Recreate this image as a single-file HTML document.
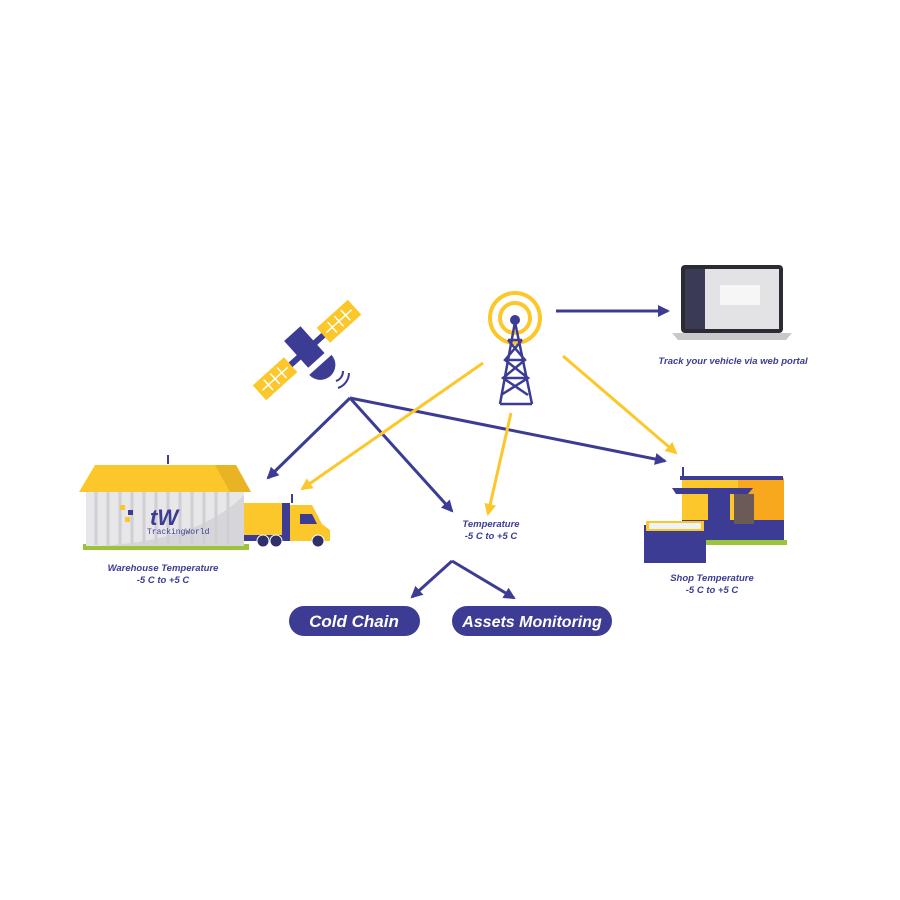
<!DOCTYPE html>
<html><head><style>
html,body{margin:0;padding:0;background:#fff;}
svg{display:block;}
text{font-family:"Liberation Sans",sans-serif;font-style:italic;font-weight:bold;fill:#3c3c94;}
</style></head><body>
<svg width="900" height="900" viewBox="0 0 900 900" xmlns="http://www.w3.org/2000/svg">
<defs>
<marker id="an" markerWidth="12" markerHeight="12" refX="10" refY="6" orient="auto" markerUnits="userSpaceOnUse"><path d="M0,0 L12,6 L0,12 Z" fill="#3c3c94"/></marker>
<marker id="ay" markerWidth="12" markerHeight="12" refX="10" refY="6" orient="auto" markerUnits="userSpaceOnUse"><path d="M0,0 L12,6 L0,12 Z" fill="#fcc72a"/></marker>
</defs>

<!-- satellite -->
<g transform="translate(307,350) rotate(-42)">
<rect x="-64" y="-10" width="42" height="20" fill="#fcc72a"/>
<rect x="22" y="-10" width="42" height="20" fill="#fcc72a"/>
<path d="M-60,0 H-26 M26,0 H60 M-52,-7 V7 M-43,-7 V7 M-34,-7 V7 M34,-7 V7 M43,-7 V7 M52,-7 V7" stroke="#fff" stroke-width="1.5"/>
<rect x="-22" y="-3" width="44" height="6" fill="#3c3c94"/>
<rect x="-11" y="-22" width="22" height="36" fill="#3c3c94"/>
<path d="M-15,20 H15 A15,15 0 0 1 -15,20 Z" fill="#3c3c94"/>
</g>
<path d="M336,381 A10,10 0 0 0 343,371 M338,388 A16,16 0 0 0 349,373" stroke="#3c3c94" stroke-width="2" fill="none"/>

<!-- tower -->
<circle cx="515" cy="318" r="25" fill="none" stroke="#fcc72a" stroke-width="4"/>
<circle cx="515" cy="318" r="15" fill="none" stroke="#fcc72a" stroke-width="4"/>
<circle cx="515" cy="320" r="5" fill="#3c3c94"/>
<path d="M515,322 L500,404 M515,322 L532,404 M508,340 H522 M505,360 H525 M503,378 H528 M508,340 L525,360 L503,378 L528,395 M522,340 L505,360 L528,378 L501,395 M500,404 H532" stroke="#3c3c94" stroke-width="2.5" fill="none"/>

<!-- laptop -->
<rect x="681" y="265" width="102" height="68" rx="4" fill="#2b2b33"/>
<rect x="685" y="269" width="94" height="60" fill="#e3e3e6"/>
<rect x="685" y="269" width="20" height="60" fill="#3a3a55"/>
<rect x="720" y="285" width="40" height="20" fill="#f6f6f6"/>
<path d="M672,333 H792 L786,340 H678 Z" fill="#c9c9cc"/>

<!-- arrows -->
<g stroke="#3c3c94" stroke-width="3" fill="none">
<line x1="556" y1="311" x2="668" y2="311" marker-end="url(#an)"/>
<line x1="350" y1="398" x2="268" y2="478" marker-end="url(#an)"/>
<line x1="350" y1="398" x2="452" y2="511" marker-end="url(#an)"/>
<line x1="350" y1="398" x2="665" y2="461" marker-end="url(#an)"/>
<line x1="452" y1="561" x2="412" y2="597" marker-end="url(#an)"/>
<line x1="452" y1="561" x2="514" y2="598" marker-end="url(#an)"/>
</g>
<g stroke="#fcc72a" stroke-width="3" fill="none">
<line x1="483" y1="363" x2="302" y2="489" marker-end="url(#ay)"/>
<line x1="511" y1="413" x2="488" y2="514" marker-end="url(#ay)"/>
<line x1="563" y1="356" x2="676" y2="453" marker-end="url(#ay)"/>
</g>

<!-- warehouse -->
<rect x="83" y="544" width="166" height="6" fill="#9bc43b"/>
<rect x="86" y="490" width="158" height="56" fill="#e7e7ea"/>
<path d="M100,546 Q200,540 244,495 V546 Z" fill="#d6d6da"/>
<g stroke="#cfcfd4" stroke-width="3">
<path d="M96,492 V545 M108,492 V545 M120,492 V545 M132,492 V545 M144,492 V545 M156,492 V545 M168,492 V545 M180,492 V545 M192,492 V545 M204,492 V545 M216,492 V545 M228,492 V545"/>
</g>
<path d="M79,492 H251 L236,465 H95 Z" fill="#fcc72a"/>
<path d="M215,465 H236 L251,492 H230 Z" fill="#e8b424"/>
<line x1="168" y1="464" x2="168" y2="455" stroke="#3c3c94" stroke-width="2"/>
<text x="150" y="525" style="font-size:22px;font-style:italic">tW</text>
<text x="147" y="534" style="font-size:8px;font-style:normal;font-weight:normal;font-family:'Liberation Mono',monospace">TrackingWorld</text>
<rect x="120" y="505" width="5" height="5" fill="#fcc72a"/><rect x="128" y="510" width="5" height="5" fill="#3c3c94"/><rect x="125" y="517" width="5" height="5" fill="#fcc72a"/>

<!-- truck -->
<rect x="244" y="503" width="46" height="34" fill="#fcc72a"/>
<rect x="244" y="535" width="80" height="6" fill="#3c3c94"/>
<rect x="282" y="503" width="8" height="34" fill="#3c3c94"/>
<path d="M290,505 H312 L322,524 L330,530 V541 H290 Z" fill="#fcc72a"/>
<path d="M300,514 H312 L317,524 H300 Z" fill="#3c3c94"/>
<circle cx="263" cy="541" r="6" fill="#2f2f6a" stroke="#fff"/>
<circle cx="276" cy="541" r="6" fill="#2f2f6a" stroke="#fff"/>
<circle cx="318" cy="541" r="6" fill="#2f2f6a" stroke="#fff"/>
<line x1="292" y1="503" x2="292" y2="494" stroke="#3c3c94" stroke-width="2"/>

<!-- shop -->
<rect x="677" y="540" width="110" height="5" fill="#9bc43b"/>
<rect x="682" y="478" width="102" height="62" fill="#f8a81c"/>
<rect x="682" y="478" width="56" height="62" fill="#fcc72a"/>
<rect x="680" y="476" width="103" height="4" fill="#3c3c94"/>
<rect x="682" y="520" width="102" height="20" fill="#3c3c94"/>
<rect x="708" y="494" width="22" height="46" fill="#3c3c94"/>
<rect x="734" y="494" width="20" height="30" fill="#6b5a55"/>
<path d="M672,488 H753 L748,494 H676 Z" fill="#3c3c94"/>
<rect x="644" y="525" width="62" height="38" fill="#3c3c94"/>
<rect x="646" y="521" width="58" height="10" fill="#fcc72a"/>
<rect x="649" y="523" width="52" height="6" fill="#eef3f8"/>
<line x1="683" y1="476" x2="683" y2="467" stroke="#3c3c94" stroke-width="2"/>

<!-- texts -->
<text x="733" y="364" text-anchor="middle" style="font-size:9.5px">Track your vehicle via web portal</text>
<text x="163" y="571" text-anchor="middle" style="font-size:9.5px">Warehouse Temperature</text>
<text x="163" y="583" text-anchor="middle" style="font-size:9.5px">-5 C to +5 C</text>
<text x="491" y="527" text-anchor="middle" style="font-size:9.5px">Temperature</text>
<text x="491" y="539" text-anchor="middle" style="font-size:9.5px">-5 C to +5 C</text>
<text x="712" y="581" text-anchor="middle" style="font-size:9.5px">Shop Temperature</text>
<text x="712" y="593" text-anchor="middle" style="font-size:9.5px">-5 C to +5 C</text>

<rect x="289" y="606" width="131" height="30" rx="15" fill="#3c3c94"/>
<text x="354" y="627" text-anchor="middle" style="font-size:17px;fill:#fff">Cold Chain</text>
<rect x="452" y="606" width="160" height="30" rx="15" fill="#3c3c94"/>
<text x="532" y="627" text-anchor="middle" style="font-size:16px;fill:#fff">Assets Monitoring</text>
</svg>
</body></html>
